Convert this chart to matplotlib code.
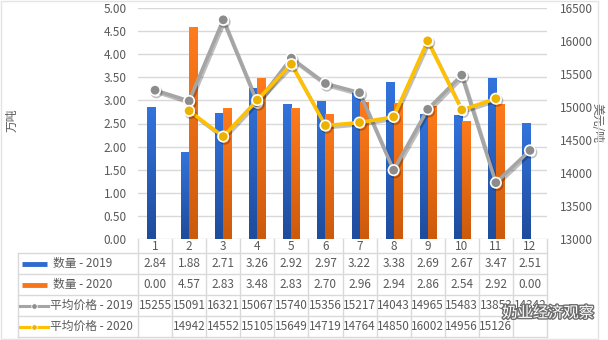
import numpy as np
import matplotlib
matplotlib.use('Agg')
import matplotlib.pyplot as plt
import matplotlib.patheffects as pe
from matplotlib.colors import LinearSegmentedColormap

plt.rcParams['font.family'] = ['Noto Sans CJK SC', 'DejaVu Sans']

months = ['1', '2', '3', '4', '5', '6', '7', '8', '9', '10', '11', '12']
qty_2019 = [2.84, 1.88, 2.71, 3.26, 2.92, 2.97, 3.22, 3.38, 2.69, 2.67, 3.47, 2.51]
qty_2020 = [0.00, 4.57, 2.83, 3.48, 2.83, 2.70, 2.96, 2.94, 2.86, 2.54, 2.92, 0.00]
price_2019 = [15255, 15091, 16321, 15067, 15740, 15356, 15217, 14043, 14965, 15483, 13853, 14342]
price_2020 = [np.nan, 14942, 14552, 15105, 15649, 14719, 14764, 14850, 16002, 14956, 15126, np.nan]
row_names = ['数量 - 2019', '数量 - 2020', '平均价格 - 2019', '平均价格 - 2020']

W, H = 608, 340
TXT = '#595959'
GRID = '#D9D9D9'
BLUE, ORANGE, GRAY, GOLD = '#2E6AD0', '#F8761A', '#A5A5A5', '#FFC000'

fig = plt.figure(figsize=(W / 100, H / 100), dpi=100)
x_l, x_r, y_t, y_b = 138, 547, 8, 239
ax = fig.add_axes([x_l / W, 1 - y_b / H, (x_r - x_l) / W, (y_b - y_t) / H])
ax2 = ax.twinx()

x = np.arange(len(months))
bw = 0.235
blue_cm = LinearSegmentedColormap.from_list('b', ['#1F4C9C', '#3273DC'])
orange_cm = LinearSegmentedColormap.from_list('o', ['#CC5A0C', '#FF7B1C'])
grad = np.linspace(0, 1, 64).reshape(-1, 1)
for vals, off, cm in [(qty_2019, -bw, blue_cm), (qty_2020, 0, orange_cm)]:
    for xi, v in zip(x, vals):
        if v <= 0:
            continue
        ax.imshow(grad, extent=[xi + off, xi + off + bw, 0, v], origin='lower',
                  aspect='auto', cmap=cm, zorder=2)

ax.set_xlim(-0.5, 11.5)
ax.set_ylim(0, 5)
ax.set_yticks(np.arange(0, 5.01, 0.5))
ax.set_yticklabels([f'{t:.2f}' for t in np.arange(0, 5.01, 0.5)])
ax.set_xticks([])
ax.grid(axis='y', color=GRID, lw=1)
ax.set_axisbelow(True)
ax.tick_params(axis='y', length=0, pad=8, labelsize=8.5, labelcolor=TXT)
for s in ax.spines.values():
    s.set_visible(False)

shadow = [pe.SimpleLineShadow(offset=(1, -1.5), alpha=0.25), pe.Normal()]
ax2.plot(x, price_2019, color=GRAY, lw=2.6, marker='o', ms=7.5, mfc='#8C8C8C',
         mec='white', mew=1.2, path_effects=shadow, zorder=3)
ax2.plot(x, price_2020, color=GOLD, lw=2.6, marker='o', ms=7.5, mfc='#EDB200',
         mec='white', mew=1.2, path_effects=shadow, zorder=4)
ax2.set_ylim(13000, 16500)
ax2.set_yticks(np.arange(13000, 16501, 500))
ax2.tick_params(axis='y', length=0, pad=9, labelsize=8.5, labelcolor=TXT)
for s in ax2.spines.values():
    s.set_visible(False)

fig.text(12 / W, 1 - 120 / H, '万吨', rotation=90, ha='center', va='center',
         fontsize=8.5, color=TXT)
fig.text(597 / W, 1 - 123 / H, '美元/吨', rotation=-90, ha='center', va='center',
         fontsize=8.5, color=TXT)

# data table underneath the plot, in pixel coordinates
tb = fig.add_axes([0, 0, 1, 1], zorder=5)
tb.set_xlim(0, W)
tb.set_ylim(H, 0)
tb.axis('off')
cw = (x_r - x_l) / 12
rows_y = [253, 274, 295, 316, 337]
for k in range(13):
    xx = x_l + k * cw
    tb.plot([xx, xx], [y_b, rows_y[-1]], color=GRID, lw=1)
tb.plot([18, 18], [rows_y[0], rows_y[-1]], color=GRID, lw=1)
for yy in rows_y:
    tb.plot([18, x_r], [yy, yy], color=GRID, lw=1)
tb.add_patch(plt.Rectangle((1, 1), W - 11, H - 2, fill=False, ec='#E4E4E4', lw=1))

for k, m in enumerate(months):
    tb.text(x_l + (k + 0.5) * cw, 246.5, m, ha='center', va='center', fontsize=8.5, color=TXT)

table_vals = [
    [f'{v:.2f}' for v in qty_2019],
    [f'{v:.2f}' for v in qty_2020],
    [f'{v:d}' for v in price_2019],
    ['' if np.isnan(v) else f'{int(v)}' for v in price_2020],
]
for r, vals in enumerate(table_vals):
    cy = (rows_y[r] + rows_y[r + 1]) / 2
    for k, s in enumerate(vals):
        tb.text(x_l + (k + 0.5) * cw, cy, s, ha='center', va='center', fontsize=8.5, color=TXT)

# legend keys inside the label column
ky = [(rows_y[i] + rows_y[i + 1]) / 2 for i in range(4)]
tb.plot([22, 47], [ky[0], ky[0]], color=BLUE, lw=3.5, solid_capstyle='butt')
tb.plot([22, 47], [ky[1], ky[1]], color=ORANGE, lw=3.5, solid_capstyle='butt')
tb.plot([20, 48], [ky[2], ky[2]], color=GRAY, lw=2.2)
tb.plot([34], [ky[2]], marker='o', ms=4, color='#8C8C8C', mec='white', mew=0.6)
tb.plot([20, 48], [ky[3], ky[3]], color=GOLD, lw=2.2)
tb.plot([34], [ky[3]], marker='o', ms=4, color='#EDB200', mec='white', mew=0.6)
for i, name in enumerate(row_names):
    tb.text(53 if i < 2 else 50, ky[i], name, ha='left', va='center', fontsize=8.5, color=TXT)

# watermark
tb.text(548, 313, '奶业经济观察', ha='center', va='center', fontsize=11, color='white',
        path_effects=[pe.withStroke(linewidth=2, foreground='#6E6E6E')], zorder=10)
for cx, cy, rw, rh in [(509, 311, 11, 9), (516, 315, 9, 7.5)]:
    tb.add_patch(matplotlib.patches.Ellipse((cx, cy), rw, rh, fill=True, fc='white',
                                            ec='#9A9A9A', lw=0.8, zorder=9))

fig.savefig('out.png', dpi=100)
